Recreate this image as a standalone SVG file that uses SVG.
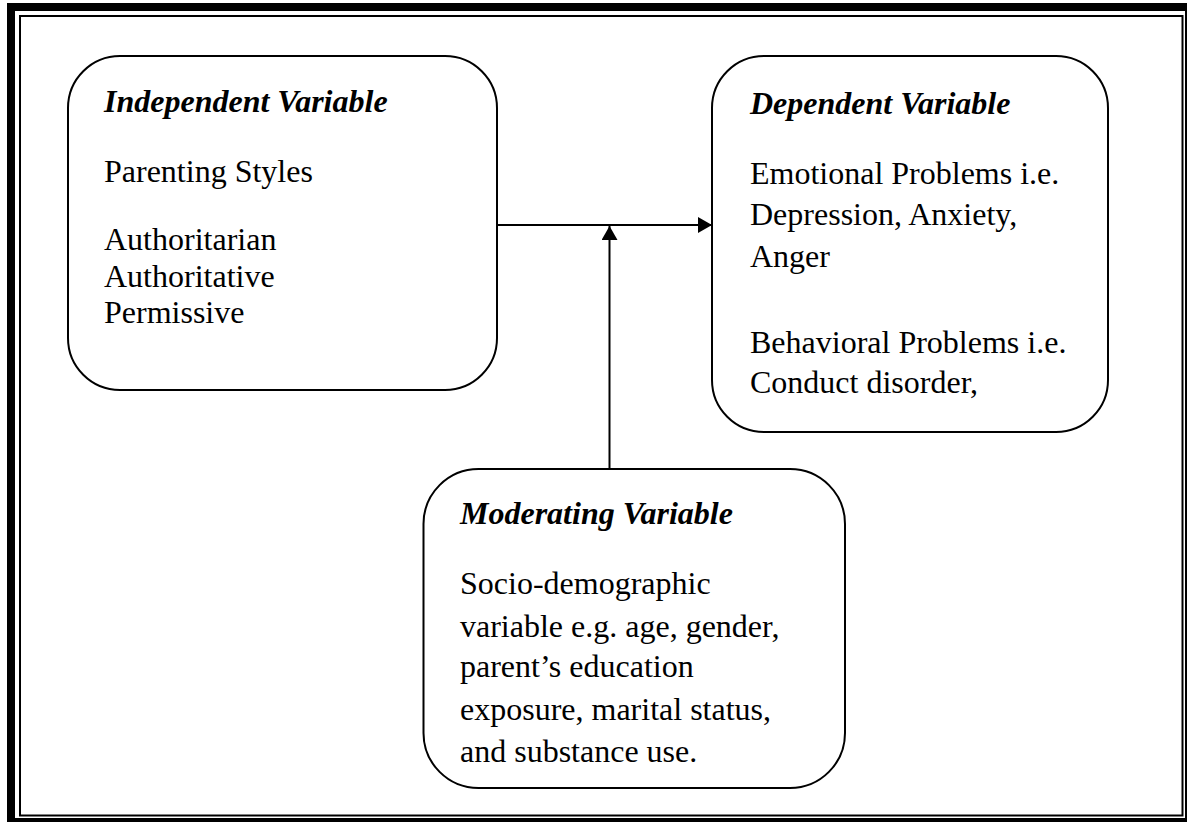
<svg xmlns="http://www.w3.org/2000/svg" width="1187" height="822" viewBox="0 0 1187 822">
  <style>
    .box { fill: #ffffff; stroke: #000000; stroke-width: 2; }
    .t { font-family: "Liberation Serif", "Times New Roman", serif; font-size: 32px; fill: #000000; }
    .h { font-weight: bold; font-style: italic; }
    .conn { stroke: #000000; stroke-width: 2; fill: none; }
  </style>
  <defs>
    <marker id="arrow" viewBox="0 0 14 16" refX="14" refY="8" markerWidth="14" markerHeight="16" markerUnits="userSpaceOnUse" orient="auto">
      <polygon points="0,0 14,8 0,16" fill="#000000"/>
    </marker>
  </defs>
  <rect x="0" y="0" width="1187" height="822" fill="#ffffff"/>
  <g id="frame">
    <rect x="11" y="7" width="1178" height="815" fill="none" stroke="#000000" stroke-width="8"/>
    <rect x="20" y="16" width="1162.5" height="799.5" fill="none" stroke="#000000" stroke-width="2"/>
  </g>
  <g id="connectors">
    <line class="conn" x1="497" y1="225" x2="712" y2="225" marker-end="url(#arrow)"/>
    <line class="conn" x1="609.5" y1="469" x2="609.5" y2="226" marker-end="url(#arrow)"/>
  </g>
  <g id="independent">
    <rect class="box" x="68" y="56" width="429" height="334" rx="52" ry="52"/>
    <text class="t h" x="104" y="112">Independent Variable</text>
    <text class="t" x="104" y="182">Parenting Styles</text>
    <text class="t" x="104" y="250">Authoritarian</text>
    <text class="t" x="104" y="286.5">Authoritative</text>
    <text class="t" x="104" y="323">Permissive</text>
  </g>
  <g id="dependent">
    <rect class="box" x="712" y="56" width="396" height="376" rx="52" ry="52"/>
    <text class="t h" x="750" y="114">Dependent Variable</text>
    <text class="t" x="750" y="184">Emotional Problems i.e.</text>
    <text class="t" x="750" y="225">Depression, Anxiety,</text>
    <text class="t" x="750" y="266.5">Anger</text>
    <text class="t" x="750" y="352.5">Behavioral Problems i.e.</text>
    <text class="t" x="750" y="393">Conduct disorder,</text>
  </g>
  <g id="moderating">
    <rect class="box" x="423.5" y="469" width="421.5" height="319" rx="55" ry="55"/>
    <text class="t h" x="460" y="524">Moderating Variable</text>
    <text class="t" x="460" y="594">Socio-demographic</text>
    <text class="t" x="460" y="636.5">variable e.g. age, gender,</text>
    <text class="t" x="460" y="677">parent’s education</text>
    <text class="t" x="460" y="720">exposure, marital status,</text>
    <text class="t" x="460" y="761.5">and substance use.</text>
  </g>
</svg>
